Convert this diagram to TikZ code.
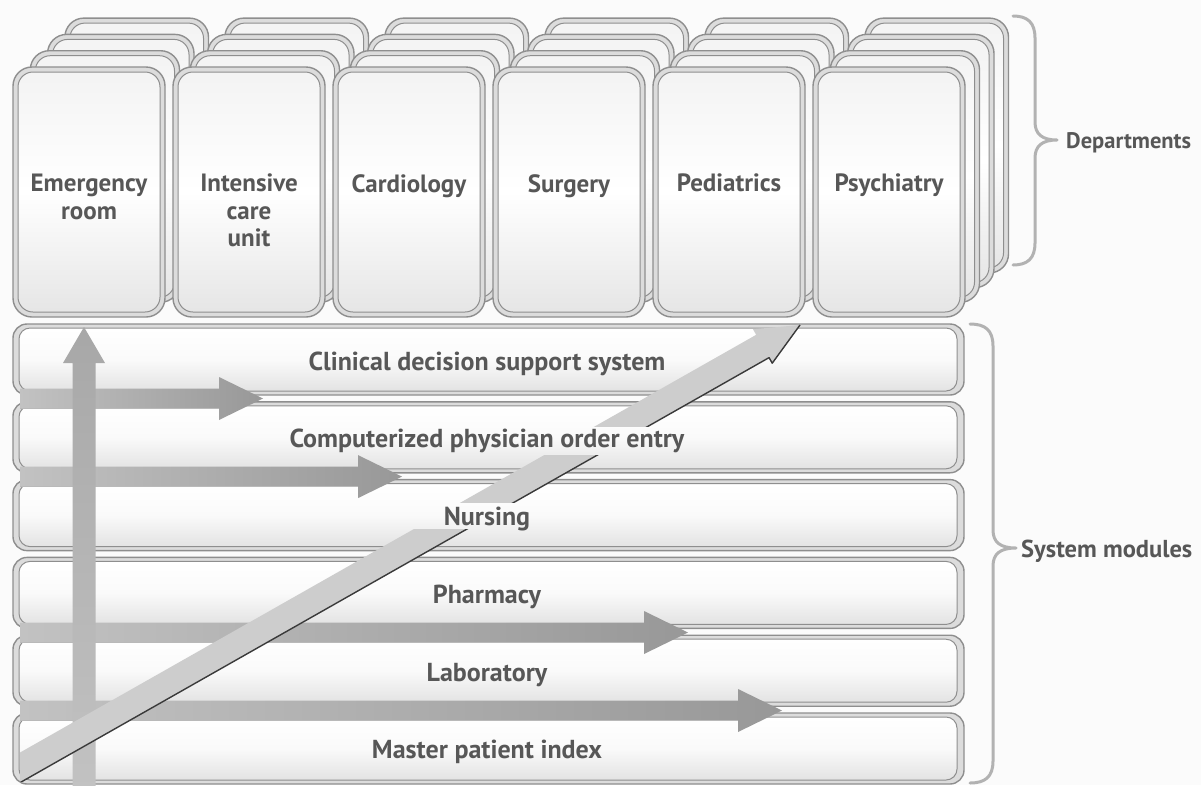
\documentclass[tikz,border=0pt]{standalone}
\usepackage{fontspec}
\setmainfont{PT Sans}
\usetikzlibrary{calc}

\definecolor{ink}{HTML}{575757}
\definecolor{rim}{HTML}{8E8E8E}
\definecolor{rimfill}{HTML}{DCDCDC}
\definecolor{paper}{HTML}{FBFBFB}
\definecolor{bandlight}{HTML}{CDCDCD}
\definecolor{bandmid}{HTML}{C2C2C2}
\definecolor{banddark}{HTML}{989898}
\definecolor{edge}{HTML}{3A3A3A}

\tikzset{
  cardrim/.style={draw=rim, line width=1.4pt, fill=rimfill, rounded corners=19pt},
  cardface/.style={draw=rim, line width=1pt, rounded corners=15pt,
    top color=gray!9, bottom color=gray!20, middle color=white},
  rowrim/.style={draw=rim, line width=1.4pt, fill=rimfill, rounded corners=14pt},
  rowface/.style={draw=rim, line width=1pt, rounded corners=11pt,
    top color=white, bottom color=gray!22, middle color=white!96!gray},
  deptlabel/.style={text=ink, font=\bfseries\fontsize{25}{27.5}\selectfont,
    align=center, inner sep=0pt, anchor=north},
  modlabel/.style={text=ink, font=\bfseries\fontsize{26}{30}\selectfont,
    inner sep=0pt, anchor=base},
  sidelabel/.style={text=ink, inner sep=0pt, anchor=base west},
  bracket/.style={draw=gray!60, line width=3pt, line cap=round, line join=round},
  hband/.style={left color=bandmid, right color=banddark},
  vband/.style={bottom color=bandmid, top color=banddark!85!white},
  hedge/.style={draw=gray!55, line width=0.8pt},
}

% long diagonal arrow, drawn once per visible segment
\newcommand\diagarrow{%
  \fill[bandlight] (-43.56,788.61) -- (756.14,334.83) -- (752.98,329.26)
    -- (800,325) -- (772.22,363.18) -- (769.06,357.61) -- (-30.64,811.39) -- cycle;
  \draw[edge, line width=1.4pt, line join=round]
    (-30.64,811.39) -- (769.06,357.61) -- (772.22,363.18) -- (800,325);
}

\begin{document}
\begin{tikzpicture}[x=1pt, y=-1pt]
\useasboundingbox (0,0) rectangle (1201,785);
\fill[paper] (0,0) rectangle (1201,785);

% stacked department cards, back layers first
\foreach \k in {3,2,1} {
  \foreach \i in {0,...,5} {
    \pgfmathsetmacro\L{13+160*\i+17.3*\k}
    \pgfmathsetmacro\R{165+160*\i+14.5*\k}
    \pgfmathsetmacro\T{67-16.3*\k}
    \pgfmathsetmacro\B{317-14.7*\k}
    \path[cardrim] (\L,\T) rectangle (\R,\B);
    \path[cardface] (\L+5,\T+5) rectangle (\R-5,\B-5);
  }
}
% front cards
\foreach \i in {0,...,5} {
  \path[cardrim] (13+160*\i,67) rectangle (165+160*\i,317);
  \path[cardface] (18+160*\i,72) rectangle (160+160*\i,312);
}

% system module rows
\foreach \j in {0,...,5} {
  \pgfmathsetmacro\T{324+77.8*\j}
  \path[rowrim] (13,\T) rectangle (964,\T+71);
  \path[rowface] (19,\T+4) rectangle (957,\T+67);
}

% horizontal arrows across module boundaries
\foreach \n/\y/\tip in {ha/398.5/263, hb/476.6/402, hc/632.5/688, hd/710.5/782} {
  \coordinate (\n s) at (20,\y);
  \coordinate (\n t) at (\tip,\y);
  \path[hband] (20,\y-10) -- (\tip-44,\y-10) -- (\tip-44,\y-21.5) -- (\tip,\y)
    -- (\tip-44,\y+21.5) -- (\tip-44,\y+10) -- (20,\y+10) -- cycle;
  \draw[hedge] (20,\y+10) -- (\tip-44,\y+10);
}

% vertical arrow up to the departments
\coordinate (vs) at (84,790);
\coordinate (vt) at (84,327);
\path[vband] (72.5,790) -- (72.5,363) -- (63,363) -- (84,327) -- (105,363)
  -- (95.5,363) -- (95.5,790) -- cycle;

% diagonal arrow, passing behind the label lines
\coordinate (ds) at (-37,800);
\coordinate (dt) at (800,325);
\begin{scope}
  \clip (20,529) rectangle (1201,781);
  \diagarrow
\end{scope}
\begin{scope}
  \clip (20,455) rectangle (1201,502);
  \diagarrow
\end{scope}
\begin{scope}
  \clip (20,0) rectangle (1201,426);
  \diagarrow
\end{scope}

% department labels
\node[deptlabel] (er)   at (89,174)  {Emergency\\room};
\node[deptlabel] (icu)  at (249,174) {Intensive\\care\\unit};
\node[deptlabel] (card) at (409,174) {Cardiology};
\node[deptlabel] (surg) at (569,174) {Surgery};
\node[deptlabel] (ped)  at (729,174) {Pediatrics};
\node[deptlabel] (psy)  at (889,174) {Psychiatry};

% module labels
\node[modlabel] (cdss) at (487,370)   {Clinical decision support system};
\node[modlabel] (cpoe) at (487,447.8) {Computerized physician order entry};
\node[modlabel] (nurs) at (487,525.6) {Nursing};
\node[modlabel] (phar) at (487,603.4) {Pharmacy};
\node[modlabel] (lab)  at (487,681.2) {Laboratory};
\node[modlabel] (mpi)  at (487,758)   {Master patient index};

% braces and their captions
\draw[bracket] (1013,16) .. controls (1027,16) and (1035,22) .. (1035,38)
  -- (1035,122) .. controls (1035,134) and (1042,140) .. (1057,140)
  .. controls (1042,140) and (1035,146) .. (1035,158)
  -- (1035,243) .. controls (1035,259) and (1027,265) .. (1013,265);
\node[sidelabel, font=\bfseries\fontsize{22.5}{26}\selectfont] (dep) at (1066,148) {Departments};

\draw[bracket] (970,324) .. controls (985,324) and (993,330) .. (993,346)
  -- (993,530) .. controls (993,542) and (1000,548) .. (1016,548)
  .. controls (1000,548) and (993,554) .. (993,566)
  -- (993,761) .. controls (993,777) and (985,783) .. (970,783);
\node[sidelabel, font=\bfseries\fontsize{24.5}{28}\selectfont] (sys) at (1021,557) {System modules};
\end{tikzpicture}
\end{document}
